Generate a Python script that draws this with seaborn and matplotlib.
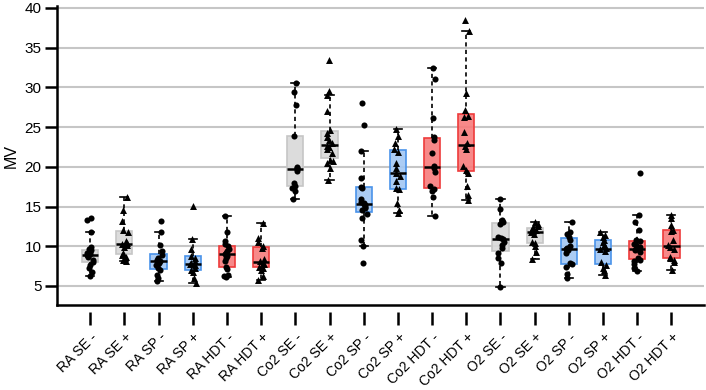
import numpy as np
import pandas as pd
import seaborn as sns
import matplotlib.pyplot as plt
from matplotlib.colors import to_rgba

categories = ["RA SE -", "RA SE +", "RA SP -", "RA SP +", "RA HDT -", "RA HDT +",
              "Co2 SE -", "Co2 SE +", "Co2 SP -", "Co2 SP +", "Co2 HDT -", "Co2 HDT +",
              "O2 SE -", "O2 SE +", "O2 SP -", "O2 SP +", "O2 HDT -", "O2 HDT +"]

ra_se_minus = [6.3, 6.8, 7.2, 7.6, 8.0, 8.3, 8.6, 8.8, 8.9, 9.0, 9.1, 9.3, 9.5, 9.6, 9.9, 11.8, 13.3, 13.5]
ra_se_plus = [8.1, 8.3, 8.7, 8.9, 9.1, 9.9, 10.2, 10.3, 10.4, 10.6, 11.8, 12.0, 13.2, 14.6, 16.2]
ra_sp_minus = [5.6, 6.0, 6.4, 7.0, 7.2, 7.6, 7.9, 8.1, 8.2, 8.3, 8.5, 8.9, 9.4, 10.2, 11.8, 13.2]
ra_sp_plus = [5.4, 6.0, 6.8, 7.0, 7.2, 7.6, 7.7, 7.9, 8.1, 8.5, 8.8, 9.6, 10.9, 15.1]
ra_hdt_minus = [6.1, 6.2, 6.4, 7.1, 7.4, 8.2, 8.5, 8.8, 9.0, 9.1, 9.4, 9.7, 10.0, 10.3, 10.6, 11.8, 13.8]
ra_hdt_plus = [5.7, 6.3, 7.0, 7.3, 7.4, 7.8, 7.9, 8.1, 8.4, 9.8, 10.0, 10.5, 11.0, 12.9]
co2_se_minus = [15.9, 16.9, 17.3, 17.6, 18.0, 19.5, 19.7, 19.8, 20.0, 23.9, 27.8, 29.4, 30.5]
co2_se_plus = [18.3, 19.8, 20.5, 20.7, 20.9, 21.8, 22.3, 22.5, 22.6, 23.0, 23.4, 23.8, 24.2, 24.6, 27.0, 29.0, 29.6, 33.5]
co2_sp_minus = [7.9, 10.0, 10.8, 13.5, 14.0, 14.6, 14.8, 15.0, 15.2, 15.3, 15.4, 15.6, 16.0, 17.3, 17.5, 18.6, 22.0, 25.3, 28.0]
co2_sp_plus = [14.2, 14.6, 15.4, 17.2, 17.3, 18.2, 18.8, 19.2, 19.8, 20.5, 21.9, 22.3, 23.0, 23.9, 24.8]
co2_hdt_minus = [13.8, 16.2, 17.0, 17.2, 17.6, 19.3, 19.9, 20.1, 21.7, 23.4, 23.7, 26.2, 31.1, 32.4]
co2_hdt_plus = [15.8, 16.4, 17.6, 19.2, 19.6, 20.1, 22.2, 22.6, 23.0, 24.4, 26.3, 26.4, 27.2, 29.3, 37.1, 38.5]
o2_se_minus = [4.9, 7.9, 8.5, 9.1, 9.8, 10.2, 10.5, 10.9, 11.0, 11.1, 12.8, 13.1, 13.3, 14.7, 15.9]
o2_se_plus = [8.4, 9.3, 10.0, 10.4, 10.5, 11.6, 11.8, 11.9, 12.0, 12.2, 12.4, 12.6, 12.8, 13.0]
o2_sp_minus = [6.0, 6.5, 7.4, 7.7, 7.9, 9.2, 9.5, 9.6, 9.8, 10.0, 10.8, 11.2, 11.5, 11.8, 13.0]
o2_sp_plus = [6.4, 7.0, 7.3, 7.6, 8.0, 9.4, 9.6, 9.8, 10.1, 10.5, 10.8, 11.1, 11.4, 11.8]
o2_hdt_minus = [6.9, 7.3, 7.8, 8.2, 8.3, 8.5, 9.3, 9.5, 9.6, 9.7, 9.9, 10.1, 10.3, 10.6, 10.8, 12.0, 13.0, 13.9, 19.2]
o2_hdt_plus = [7.0, 8.0, 8.3, 8.5, 8.6, 9.6, 9.9, 10.2, 10.8, 11.9, 12.1, 12.7, 13.5, 13.9]

series = [ra_se_minus, ra_se_plus, ra_sp_minus, ra_sp_plus, ra_hdt_minus, ra_hdt_plus,
          co2_se_minus, co2_se_plus, co2_sp_minus, co2_sp_plus, co2_hdt_minus, co2_hdt_plus,
          o2_se_minus, o2_se_plus, o2_sp_minus, o2_sp_plus, o2_hdt_minus, o2_hdt_plus]

grey_fill, grey_edge = "#d9d9d9", "#c6c6c6"
blue_fill, blue_edge = "#a2c7f3", "#4a93ea"
red_fill, red_edge = "#f77c7c", "#ee3b3b"
fills = [grey_fill, grey_fill, blue_fill, blue_fill, red_fill, red_fill] * 3
edges = [grey_edge, grey_edge, blue_edge, blue_edge, red_edge, red_edge] * 3

rows = []
for cat, vals in zip(categories, series):
    for v in vals:
        rows.append({"cat": cat, "value": v, "sign": cat.split()[-1]})
df = pd.DataFrame(rows)

plt.rcParams["font.family"] = ["Liberation Sans", "DejaVu Sans"]

fig = plt.figure(figsize=(7.06, 3.9), dpi=100)
ax = fig.add_axes([0.0807, 0.218, 0.9164, 0.7656])

sns.boxplot(data=df, x="cat", y="value", hue="cat", order=categories, hue_order=categories,
            palette=fills, width=0.47, showfliers=False, linecolor="black", linewidth=1.0,
            whiskerprops=dict(linestyle=(0, (2.5, 2)), linewidth=1.2),
            medianprops=dict(linewidth=1.8, color="black"),
            capprops=dict(linewidth=1.2, color="black"),
            legend=False, ax=ax)

for patch in ax.patches:
    verts = patch.get_path().vertices
    idx = int(round(np.mean(verts[:, 0])))
    if 0 <= idx < len(categories):
        patch.set_facecolor(to_rgba(fills[idx], 0.9))
        patch.set_edgecolor(edges[idx])
        patch.set_linewidth(1.2)

np.random.seed(3)
sns.stripplot(data=df[df["sign"] == "-"], x="cat", y="value", order=categories,
              color="black", marker="o", size=4.4, jitter=0.1, ax=ax, zorder=4)
sns.stripplot(data=df[df["sign"] == "+"], x="cat", y="value", order=categories,
              color="black", marker="^", size=5.0, jitter=0.1, ax=ax, zorder=4)

ax.set_xlim(-0.97, 17.95)
ax.set_ylim(2.6, 40.2)
ax.set_yticks([5, 10, 15, 20, 25, 30, 35, 40])
ax.yaxis.grid(True, color="#c6c6c6", linewidth=1.5)
ax.xaxis.grid(False)
ax.set_axisbelow(True)

for s in ["top", "right"]:
    ax.spines[s].set_visible(False)
ax.spines["left"].set_linewidth(1.8)
ax.spines["bottom"].set_position(("outward", 5))
ax.spines["bottom"].set_visible(False)
ax.plot([0, 1], [0, 0], transform=ax.transAxes, color="black", lw=1.8, clip_on=False, zorder=5)

ax.tick_params(axis="y", length=9, width=1.8, labelsize=11, pad=2)
ax.tick_params(axis="x", length=9, width=1.8, labelsize=10, pad=4)
ax.set_xticks(range(len(categories)))
ax.set_xticklabels(categories, rotation=45, ha="right", rotation_mode="anchor")
ax.set_xlabel("")
ax.set_ylabel("MV", fontsize=11.5, labelpad=4)

fig.savefig("out.png", dpi=100)
